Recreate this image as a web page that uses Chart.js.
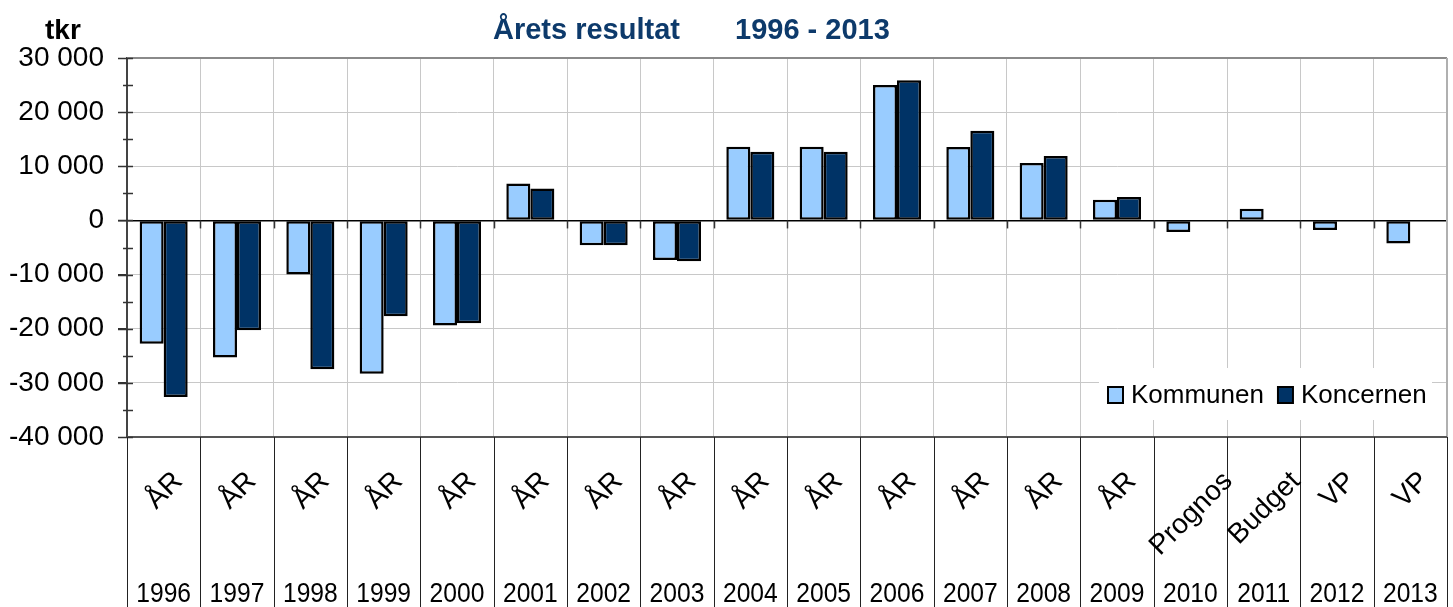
<!DOCTYPE html>
<html>
<head>
<meta charset="utf-8">
<script src="https://cdn.jsdelivr.net/npm/chart.js@4/dist/chart.umd.min.js"></script>
<style>
  html, body { margin: 0; padding: 0; background: #fff; }
  #wrap { width: 1453px; height: 607px; }
</style>
</head>
<body>
<div id="wrap"><canvas id="resultChart" width="1453" height="607"></canvas></div>
<script>
(function() {
    const years = ['1996', '1997', '1998', '1999', '2000', '2001', '2002', '2003', '2004',
                   '2005', '2006', '2007', '2008', '2009', '2010', '2011', '2012', '2013'];
    const kinds = ['ÅR', 'ÅR', 'ÅR', 'ÅR', 'ÅR', 'ÅR', 'ÅR', 'ÅR', 'ÅR',
                   'ÅR', 'ÅR', 'ÅR', 'ÅR', 'ÅR', 'Prognos', 'Budget', 'VP', 'VP'];
    const kommunen = [-22800, -25300, -10000, -28300, -19400, 6800, -4600, -7300, 13600,
                      13600, 25000, 13550, 10600, 3800, -2150, 2150, -1750, -4250];
    const koncernen = [-32600, -20300, -27500, -17700, -19000, 5900, -4600, -7550, 12700,
                       12700, 25900, 16550, 11900, 4350, null, null, null, null];
    const yTicks = [-40000, -30000, -20000, -10000, 0, 10000, 20000, 30000];

    const FONT = "'Liberation Sans', Arial, sans-serif";
    const fmt = v => String(v).replace(/\B(?=(\d{3})+(?!\d))/g, ' ');

    // everything that Chart.js can't place natively: title, legend, two-level x labels
    const decor = {
        id: 'decor',
        afterDraw(chart) {
            const ctx = chart.ctx;
            const area = chart.chartArea;
            const x = chart.scales.x;
            const y = chart.scales.y;
            const n = years.length;
            const w = (area.right - area.left) / n;
            const zero = y.getPixelForValue(0);
            const H = chart.height;

            ctx.save();

            // frame
            ctx.strokeStyle = '#8a8a8a';
            ctx.lineWidth = 2;
            ctx.beginPath();
            ctx.moveTo(area.left, area.top);
            ctx.lineTo(area.right, area.top);
            ctx.stroke();
            ctx.strokeStyle = '#b0b0b0';
            ctx.beginPath();
            ctx.moveTo(area.right, area.top);
            ctx.lineTo(area.right, area.bottom);
            ctx.stroke();
            ctx.strokeStyle = '#555';
            ctx.beginPath();
            ctx.moveTo(area.left, area.bottom);
            ctx.lineTo(area.right, area.bottom);
            ctx.stroke();

            // y ticks (inner parts and minor)
            ctx.strokeStyle = '#333';
            ctx.lineWidth = 1.5;
            for (let v = y.min; v <= y.max; v += 5000) {
                const py = Math.round(y.getPixelForValue(v)) + 0.5;
                ctx.beginPath();
                ctx.moveTo(v % 10000 === 0 ? area.left - 9 : area.left - 4, py);
                ctx.lineTo(area.left + 6, py);
                ctx.stroke();
            }

            // tick marks under the zero line
            for (let i = 1; i < n; i++) {
                const px = Math.round(x.getPixelForValue(i) - w / 2) + 0.5;
                ctx.beginPath();
                ctx.moveTo(px, zero);
                ctx.lineTo(px, zero + 8);
                ctx.stroke();
            }

            // separators in label area
            ctx.strokeStyle = '#222';
            ctx.lineWidth = 1;
            for (let i = 0; i <= n; i++) {
                const px = Math.round(x.getPixelForValue(i) - w / 2) + 0.5;
                ctx.beginPath();
                ctx.moveTo(px, area.bottom);
                ctx.lineTo(px, H);
                ctx.stroke();
            }

            // rotated kind labels
            ctx.fillStyle = '#000';
            ctx.font = '28px ' + FONT;
            ctx.textAlign = 'center';
            ctx.textBaseline = 'middle';
            kinds.forEach((k, i) => {
                const tw = ctx.measureText(k).width;
                ctx.save();
                ctx.translate(x.getPixelForValue(i) + 1, area.bottom + 40 + tw * 0.3536);
                ctx.rotate(-Math.PI / 4);
                ctx.fillText(k, 0, 0);
                ctx.restore();
            });

            // year labels, slightly condensed
            ctx.font = '28px ' + FONT;
            ctx.textBaseline = 'alphabetic';
            years.forEach((yr, i) => {
                ctx.save();
                ctx.translate(x.getPixelForValue(i), 602);
                ctx.scale(0.88, 1);
                ctx.fillText(yr, 0, 0);
                ctx.restore();
            });

            // title and unit
            ctx.textAlign = 'left';
            ctx.font = 'bold 28px ' + FONT;
            ctx.fillStyle = '#000';
            ctx.fillText('tkr', 45, 39);
            ctx.fillStyle = '#0d3a6b';
            ctx.font = 'bold 29px ' + FONT;
            ctx.fillText('Årets resultat', 493, 39);
            ctx.fillText('1996 - 2013', 735, 39);

            // legend
            const bx = area.right - 348, by = area.bottom - 69, bw = 333, bh = 52;
            ctx.fillStyle = '#fff';
            ctx.fillRect(bx, by, bw, bh);
            ctx.font = '26px ' + FONT;
            ctx.textBaseline = 'middle';
            let lx = bx + 9;
            const ly = by + 27;
            chart.data.datasets.forEach(ds => {
                ctx.fillStyle = ds.backgroundColor;
                ctx.fillRect(lx, ly - 8, 15, 16);
                ctx.strokeStyle = '#000';
                ctx.lineWidth = 2;
                ctx.strokeRect(lx, ly - 8, 15, 16);
                ctx.fillStyle = '#000';
                ctx.fillText(ds.label, lx + 23, ly + 1);
                lx += 23 + ctx.measureText(ds.label).width + 14;
            });

            ctx.restore();
        }
    };

    const ctx = document.getElementById('resultChart').getContext('2d');
    new Chart(ctx, {
        type: 'bar',
        data: {
            labels: years,
            datasets: [{
                label: 'Kommunen',
                data: kommunen,
                backgroundColor: '#99ccff',
                borderColor: '#000',
                borderWidth: 2.5,
                borderSkipped: false,
                categoryPercentage: 0.655,
                barPercentage: 1.0
            }, {
                label: 'Koncernen',
                data: koncernen,
                backgroundColor: '#003366',
                borderColor: '#000',
                borderWidth: 2.5,
                borderSkipped: false,
                categoryPercentage: 0.655,
                barPercentage: 1.0
            }]
        },
        options: {
            responsive: false,
            animation: false,
            layout: { padding: { top: 58, right: 6, left: 0, bottom: 0 } },
            plugins: {
                legend: { display: false },
                title: { display: false },
                tooltip: { enabled: false }
            },
            scales: {
                x: {
                    offset: true,
                    grid: { offset: true, color: '#c8c8c8', lineWidth: 1, drawTicks: false },
                    border: { display: false },
                    ticks: { display: false },
                    afterFit: s => { s.height = 170; }
                },
                y: {
                    min: -40000,
                    max: 30000,
                    afterBuildTicks: s => { s.ticks = yTicks.map(v => ({ value: v })); },
                    ticks: {
                        color: '#000',
                        font: { family: FONT, size: 28 },
                        padding: 14,
                        callback: v => fmt(v)
                    },
                    grid: {
                        color: c => c.tick && c.tick.value === 0 ? '#000' : '#c8c8c8',
                        lineWidth: c => c.tick && c.tick.value === 0 ? 1.5 : 1,
                        tickLength: 9,
                        tickColor: '#333'
                    },
                    border: { color: '#444', width: 2 },
                    afterFit: s => { s.width = 127; }
                }
            }
        },
        plugins: [decor]
    });
}());
</script>
</body>
</html>
